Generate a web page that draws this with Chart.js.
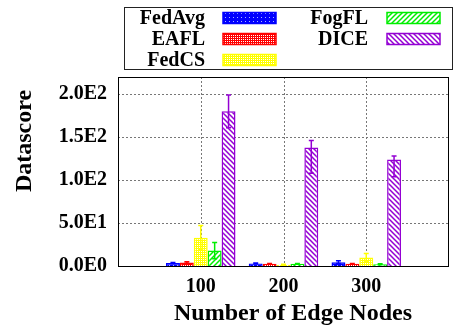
<!DOCTYPE html>
<html>
<head>
<meta charset="utf-8">
<script src="https://cdn.jsdelivr.net/npm/chart.js@4"></script>
<style>
  html, body { margin: 0; padding: 0; background: #fff; }
  canvas { display: block; }
</style>
</head>
<body>
<canvas id="chart" width="458" height="330"></canvas>
<script>
// data
const nodeCounts = ["100", "200", "300"];
const methods = ["FedAvg", "EAFL", "FedCS", "FogFL", "DICE"];

const fedAvg = [3.5, 3, 4.5];
const eafl = [4, 2.5, 2.5];
const fedCS = [33, 1.5, 10];
const fogFL = [18, 2.5, 2];
const dice = [180, 138, 124];

const fedAvgErrUp = [0.5, 0.5, 1.5];
const fedAvgErrDown = [0.5, 0.5, 1.5];
const eaflErrUp = [1, 0.5, 0.5];
const eaflErrDown = [1, 0.5, 0.5];
const fedCSErrUp = [14, 0.5, 4.5];
const fedCSErrDown = [14, 0.5, 4.5];
const fogFLErrUp = [9.5, 0.5, 0.5];
const fogFLErrDown = [9.5, 0.5, 0.5];
const diceErrUp = [19, 8, 4];
const diceErrDown = [19, 30, 20];

const yTicks = [0, 50, 100, 150, 200];

const SERIF = "'Liberation Serif', 'Times New Roman', serif";

function makePattern(kind, color) {
    const c = document.createElement("canvas");
    const g = c.getContext("2d");
    if (kind === "dots") {
        c.width = 4; c.height = 4;
        g.fillStyle = color;
        g.fillRect(0, 0, 4, 4);
        g.fillStyle = "rgba(190,200,255,0.9)";
        g.fillRect(1, 1, 1, 1);
    } else if (kind === "checks") {
        c.width = 4; c.height = 4;
        g.fillStyle = color;
        g.fillRect(0, 0, 4, 4);
        g.fillStyle = "#ffffff";
        g.fillRect(1, 1, 1, 1);
        g.fillRect(3, 3, 1, 1);
        g.fillRect(1, 3, 1, 1);
        g.fillRect(3, 1, 1, 1);
    } else {
        c.width = 5; c.height = 5;
        g.fillStyle = "#ffffff";
        g.fillRect(0, 0, 5, 5);
        g.strokeStyle = color;
        g.lineWidth = 1.5;
        g.beginPath();
        if (kind === "fwd") {
            g.moveTo(-1, 6); g.lineTo(6, -1);
            g.moveTo(-1, 1); g.lineTo(1, -1);
            g.moveTo(4, 6); g.lineTo(6, 4);
        } else {
            g.moveTo(-1, -1); g.lineTo(6, 6);
            g.moveTo(4, -1); g.lineTo(6, 1);
            g.moveTo(-1, 4); g.lineTo(1, 6);
        }
        g.stroke();
    }
    return g.createPattern(c, "repeat");
}

const colors = ["#0000ff", "#ff0000", "#ffff00", "#00ee00", "#9400d3"];
const patterns = [
    makePattern("dots", colors[0]),
    makePattern("checks", colors[1]),
    makePattern("checks", colors[2]),
    makePattern("fwd", colors[3]),
    makePattern("back", colors[4])
];
const values = [fedAvg, eafl, fedCS, fogFL, dice];
const errUp = [fedAvgErrUp, eaflErrUp, fedCSErrUp, fogFLErrUp, diceErrUp];
const errDown = [fedAvgErrDown, eaflErrDown, fedCSErrDown, fogFLErrDown, diceErrDown];

// empty categories at both ends so that 100/200/300 sit at x = 100,200,300 of a 0..400 range
const pad = arr => [null, ...arr, null];

const datasets = methods.map((m, i) => ({
    label: m,
    data: pad(values[i]),
    backgroundColor: patterns[i],
    borderColor: colors[i],
    borderWidth: 1.5,
    errUp: pad(errUp[i]),
    errDown: pad(errDown[i])
}));

const framePlugin = {
    id: "frame",
    beforeDatasetsDraw(chart) {
        const { ctx, chartArea: a, scales } = chart;
        ctx.save();
        ctx.strokeStyle = "#777";
        ctx.lineWidth = 1;
        ctx.setLineDash([2, 2]);
        ctx.beginPath();
        yTicks.slice(1).forEach(v => {
            const y = Math.round(scales.y.getPixelForValue(v)) + 0.5;
            ctx.moveTo(a.left, y); ctx.lineTo(a.right, y);
        });
        [1, 2, 3].forEach(i => {
            const x = Math.round(scales.x.getPixelForValue(i)) + 0.5;
            ctx.moveTo(x, a.top); ctx.lineTo(x, a.bottom);
        });
        ctx.stroke();
        ctx.restore();
    },
    afterDatasetsDraw(chart) {
        const { ctx, chartArea: a, scales } = chart;
        ctx.save();
        // error bars
        chart.data.datasets.forEach((ds, di) => {
            const meta = chart.getDatasetMeta(di);
            meta.data.forEach((bar, j) => {
                const v = ds.data[j];
                if (v == null) return;
                const yTop = scales.y.getPixelForValue(v + ds.errUp[j]);
                const yBot = scales.y.getPixelForValue(Math.max(0, v - ds.errDown[j]));
                ctx.strokeStyle = ds.borderColor;
                ctx.lineWidth = 1.5;
                ctx.beginPath();
                ctx.moveTo(bar.x, yTop); ctx.lineTo(bar.x, yBot);
                ctx.moveTo(bar.x - 2.5, yTop); ctx.lineTo(bar.x + 2.5, yTop);
                ctx.moveTo(bar.x - 2.5, yBot); ctx.lineTo(bar.x + 2.5, yBot);
                ctx.stroke();
            });
        });
        // plot frame
        ctx.strokeStyle = "#000";
        ctx.lineWidth = 1;
        ctx.strokeRect(a.left + 0.5, a.top + 0.5, a.right - a.left - 1, a.bottom - a.top);
        ctx.restore();
    },
    afterDraw(chart) {
        const { ctx } = chart;
        ctx.save();
        ctx.fillStyle = "#000";
        // axis titles
        ctx.font = "bold 24px " + SERIF;
        ctx.textAlign = "center";
        ctx.textBaseline = "middle";
        ctx.save();
        ctx.translate(25, 141);
        ctx.rotate(-Math.PI / 2);
        ctx.fillText("Datascore", 0, 0);
        ctx.restore();
        ctx.textBaseline = "alphabetic";
        ctx.fillText("Number of Edge Nodes", 293, 320);

        // legend
        ctx.strokeStyle = "#222";
        ctx.lineWidth = 1;
        ctx.strokeRect(124.5, 7.5, 328, 62);
        ctx.font = "bold 20px " + SERIF;
        ctx.textAlign = "right";
        ctx.textBaseline = "middle";
        const cols = [{ text: 205, sw: 223 }, { text: 368, sw: 387 }];
        const rows = [18, 39, 60];
        methods.forEach((m, i) => {
            const col = cols[i < 3 ? 0 : 1];
            const y = rows[i < 3 ? i : i - 3];
            ctx.fillStyle = "#000";
            ctx.fillText(m, col.text, y + 1);
            ctx.fillStyle = patterns[i];
            ctx.fillRect(col.sw, y - 5.5, 53, 11);
            ctx.strokeStyle = colors[i];
            ctx.lineWidth = 1.5;
            ctx.strokeRect(col.sw, y - 5.5, 53, 11);
        });
        ctx.restore();
    }
};

new Chart(document.getElementById("chart"), {
    type: "bar",
    data: {
        labels: ["", ...nodeCounts, ""],
        datasets: datasets
    },
    options: {
        responsive: false,
        animation: false,
        devicePixelRatio: 1,
        layout: { padding: { top: 77, left: 0, right: 0, bottom: 0 } },
        datasets: {
            bar: { categoryPercentage: 0.84, barPercentage: 1, grouped: true }
        },
        plugins: {
            legend: { display: false },
            tooltip: { enabled: false }
        },
        scales: {
            x: {
                offset: false,
                grid: { display: false, drawTicks: false, offset: false },
                border: { display: false },
                ticks: {
                    color: "#000",
                    padding: 9,
                    maxRotation: 0,
                    autoSkip: false,
                    font: { family: SERIF, size: 20, weight: "bold" }
                },
                afterFit(scale) { scale.height = 64; }
            },
            y: {
                min: 0,
                max: 220,
                grid: { display: false, drawTicks: false },
                border: { display: false },
                ticks: {
                    stepSize: 50,
                    includeBounds: false,
                    color: "#000",
                    padding: 11,
                    font: { family: SERIF, size: 20, weight: "bold" },
                    callback: function (v) {
                        if (v === 0) return "0.0E0";
                        const e = Math.floor(Math.log10(v));
                        return (v / Math.pow(10, e)).toFixed(1) + "E" + e;
                    }
                },
                afterFit(scale) { scale.width = 118; }
            }
        }
    },
    plugins: [framePlugin]
});
</script>
</body>
</html>
